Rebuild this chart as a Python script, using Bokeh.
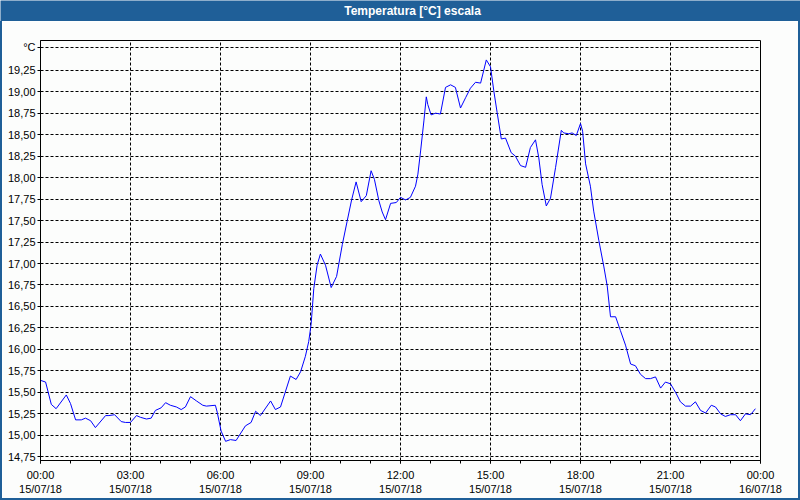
from bokeh.plotting import figure
from bokeh.models import FixedTicker, Spacer, Range1d
from bokeh.layouts import column, row
from bokeh.core.properties import value
from bokeh.embed import file_html
from bokeh.resources import INLINE

TITLE = "Temperatura [°C] escala"

hours = [0.00, 0.17, 0.36, 0.52, 0.86, 1.00, 1.17, 1.36, 1.50, 1.67, 1.83, 2.17, 2.28, 2.47, 2.69,
         2.83, 3.00, 3.20, 3.33, 3.53, 3.69, 3.83, 4.02, 4.17, 4.33, 4.53, 4.69, 4.83, 5.00, 5.20,
         5.41, 5.53, 5.83, 5.89, 6.02, 6.17, 6.33, 6.52, 6.83, 7.02, 7.17, 7.33, 7.67, 7.83, 8.00,
         8.33, 8.52, 8.67, 8.83, 8.94, 9.02, 9.11, 9.22, 9.33, 9.50, 9.69, 9.87, 10.06, 10.22, 10.37,
         10.52, 10.69, 10.86, 11.02, 11.13, 11.28, 11.39, 11.50, 11.67, 11.86, 12.00, 12.17, 12.33,
         12.50, 12.58, 12.67, 12.78, 12.86, 12.91, 13.02, 13.17, 13.33, 13.50, 13.67, 13.83, 14.00,
         14.17, 14.33, 14.50, 14.67, 14.86, 15.00, 15.11, 15.22, 15.36, 15.50, 15.69, 15.83, 16.00,
         16.17, 16.33, 16.50, 16.61, 16.72, 16.86, 17.00, 17.17, 17.36, 17.44, 17.61, 17.72, 17.86,
         18.00, 18.07, 18.17, 18.33, 18.44, 18.61, 18.78, 18.89, 19.00, 19.17, 19.33, 19.50, 19.67,
         19.83, 20.00, 20.17, 20.33, 20.50, 20.67, 20.83, 21.00, 21.17, 21.33, 21.50, 21.67, 21.83,
         22.00, 22.17, 22.36, 22.50, 22.67, 22.83, 23.00, 23.17, 23.33, 23.50, 23.67, 23.83]

temps = [15.64, 15.62, 15.36, 15.31, 15.47, 15.37, 15.18, 15.18, 15.20, 15.17, 15.09, 15.23, 15.23, 15.24, 15.16,
         15.15, 15.15, 15.23, 15.21, 15.19, 15.20, 15.29, 15.32, 15.38, 15.35, 15.33, 15.30, 15.33, 15.45, 15.40,
         15.35, 15.34, 15.35, 15.27, 15.05, 14.93, 14.95, 14.94, 15.11, 15.15, 15.28, 15.23, 15.40, 15.30, 15.33,
         15.69, 15.65, 15.74, 15.92, 16.09, 16.29, 16.71, 16.98, 17.11, 16.98, 16.72, 16.85, 17.22, 17.49, 17.74,
         17.95, 17.72, 17.79, 18.08, 17.98, 17.73, 17.60, 17.51, 17.70, 17.71, 17.77, 17.74, 17.77,
         17.90, 18.04, 18.31, 18.66, 18.94, 18.85, 18.73, 18.75, 18.74, 19.05, 19.08, 19.05, 18.81,
         18.93, 19.04, 19.11, 19.10, 19.37, 19.29, 19.01, 18.76, 18.45, 18.46, 18.29, 18.25, 18.14,
         18.12, 18.35, 18.44, 18.23, 17.92, 17.67, 17.76, 18.12, 18.55, 18.52, 18.51, 18.52, 18.49,
         18.63, 18.54, 18.16, 17.90, 17.61, 17.27, 16.96, 16.74, 16.38, 16.38, 16.22, 16.05, 15.83,
         15.81, 15.71, 15.66, 15.66, 15.68, 15.55, 15.62, 15.60, 15.50, 15.39, 15.34, 15.34, 15.39,
         15.29, 15.26, 15.35, 15.33, 15.25, 15.22, 15.24, 15.24, 15.17, 15.25, 15.24, 15.31]

x_ticks = [0, 3, 6, 9, 12, 15, 18, 21, 24]
x_tick_labels = ["00:00\n15/07/18", "03:00\n15/07/18", "06:00\n15/07/18", "09:00\n15/07/18",
                 "12:00\n15/07/18", "15:00\n15/07/18", "18:00\n15/07/18", "21:00\n15/07/18",
                 "00:00\n16/07/18"]
x_minor = list(range(0, 25))

y_ticks = [14.75, 15.0, 15.25, 15.5, 15.75, 16.0, 16.25, 16.5, 16.75, 17.0, 17.25, 17.5,
           17.75, 18.0, 18.25, 18.5, 18.75, 19.0, 19.25, 19.52]
y_tick_labels = ["14,75", "15,00", "15,25", "15,50", "15,75", "16,00", "16,25", "16,50", "16,75",
                 "17,00", "17,25", "17,50", "17,75", "18,00", "18,25", "18,50", "18,75", "19,00",
                 "19,25", "°C"]

BLUE = "#1f5f98"
BG = "#fcfdfc"
FONT = "Liberation Sans"

# title bar
tf = figure(width=800, height=21, x_range=Range1d(0, 800), y_range=Range1d(0, 21),
            toolbar_location=None, output_backend="svg", min_border=0,
            x_axis_type=None, y_axis_type=None)
tf.grid.visible = False
tf.outline_line_color = None
tf.background_fill_color = BLUE
tf.border_fill_color = BLUE
tf.text(x=[412], y=[10.5], text=[TITLE], text_color="white", text_font=value(FONT),
        text_font_style="bold", text_font_size="12px", text_align="center",
        text_baseline="middle")

# main chart
p = figure(frame_width=720, frame_height=420, x_range=Range1d(0, 24),
           y_range=Range1d(14.707, 19.596), min_border_left=38, min_border_right=38,
           min_border_top=19, min_border_bottom=38, toolbar_location=None,
           output_backend="svg")
p.background_fill_color = BG
p.border_fill_color = BG
p.outline_line_color = "black"
p.outline_line_width = 1
p.outline_line_alpha = 1

p.line(hours, temps, line_color="#0000ff", line_width=1)

xa = p.xaxis[0]
xa.ticker = FixedTicker(ticks=x_ticks, minor_ticks=x_minor)
xa.major_label_overrides = {t: l for t, l in zip(x_ticks, x_tick_labels)}
xa.major_tick_out = 3
xa.major_tick_in = 0
xa.minor_tick_out = 3
xa.minor_tick_in = 0
xa.major_label_standoff = 5

ya = p.yaxis[0]
ya.ticker = FixedTicker(ticks=y_ticks, minor_ticks=[])
ya.major_label_overrides = {t: l for t, l in zip(y_ticks, y_tick_labels)}
ya.major_tick_out = 3
ya.major_tick_in = 0
ya.minor_tick_out = 0
ya.minor_tick_in = 0
ya.major_label_standoff = 2

for ax in (xa, ya):
    ax.axis_line_color = "black"
    ax.major_tick_line_color = "black"
    ax.minor_tick_line_color = "black"
    ax.major_label_text_font = FONT
    ax.major_label_text_font_size = "11px"
    ax.major_label_text_color = "black"

for g in (p.xgrid[0], p.ygrid[0]):
    g.grid_line_color = "black"
    g.grid_line_dash = "3 2"
    g.grid_line_width = 1
    g.grid_line_alpha = 1

left = Spacer(width=2, height=477, styles={"background-color": BLUE})
right = Spacer(width=2, height=477, styles={"background-color": BLUE})
bottom = Spacer(width=800, height=2, styles={"background-color": BLUE})

layout = column(tf, row(left, p, right), bottom)

open("out.html", "w").write(file_html(layout, INLINE))
